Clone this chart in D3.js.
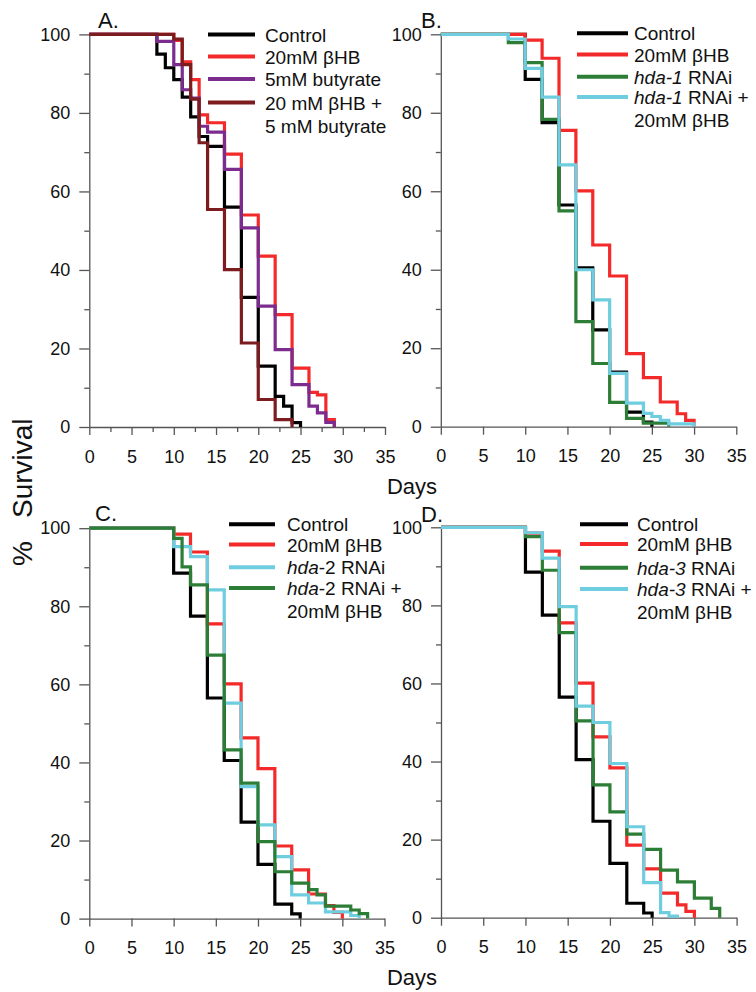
<!DOCTYPE html>
<html>
<head>
<meta charset="utf-8">
<script src="https://cdn.jsdelivr.net/npm/d3@7"></script>
<style>
  html, body { margin: 0; padding: 0; background: #fff; }
  svg { display: block; font-family: "Liberation Sans", Arial, sans-serif; }
</style>
</head>
<body>
<svg id="chart" width="756" height="992"></svg>
<script>
// ---- Axis ticks ----
const dayTicks = [0, 5, 10, 15, 20, 25, 30, 35];
const dayMinorTicks = [2.5, 7.5, 12.5, 17.5, 22.5, 27.5, 32.5];
const survTicks = [0, 20, 40, 60, 80, 100];
const survMinorTicks = [10, 30, 50, 70, 90];

// ---- Panel A: butyrate and βHB ----
const aControlDays = [0, 8, 9, 10, 11, 12, 13, 14, 16, 18, 20, 22, 23, 24, 25];
const aControlSurv = [100, 95, 91.5, 88.5, 84, 79, 74, 71.5, 56, 33, 15.5, 7.8, 5.3, 1.1, 0];
const aBhbDays = [0, 10, 11, 12, 13, 14, 16, 18, 20, 22, 24, 26, 27, 28, 29];
const aBhbSurv = [100, 98.5, 93, 88.5, 79.5, 77.5, 69.5, 54, 43.5, 28.6, 15, 8.8, 8.2, 1.9, 0];
const aButyrateDays = [0, 8, 10, 11, 12, 13, 14, 16, 18, 20, 22, 24, 26, 27, 28, 29];
const aButyrateSurv = [100, 98.2, 92.3, 85.9, 83.8, 76.6, 75.1, 65.6, 50.7, 30.8, 19.7, 10.8, 5.3, 3.6, 1.2, 0];
const aComboDays = [0, 10, 11, 12, 13, 14, 16, 18, 20, 22, 24];
const aComboSurv = [100, 98.8, 92.3, 83.5, 72.4, 55.4, 40.1, 21.4, 7, 1.9, 0];

// ---- Shared control and βHB for panels B–D ----
const controlDays = [0, 10, 12, 14, 16, 18, 20, 22, 24, 25];
const controlSurv = [100, 88.5, 77.5, 56.5, 40.5, 24.7, 13.9, 3.7, 1.2, 0];
const bhbDays = [0, 10, 12, 14, 16, 18, 20, 22, 24, 26, 28, 29, 30];
const bhbSurv = [100, 98.5, 93.9, 75.5, 60.1, 46.3, 38.4, 18.6, 12.5, 6.3, 3.3, 1.6, 0];

// ---- Panel B: hda-1 ----
const hda1Days = [0, 8, 10, 12, 14, 16, 18, 20, 22, 24, 27];
const hda1Surv = [100, 97.9, 92.8, 78.3, 55, 26.8, 16.1, 6.2, 2.1, 0.9, 0];
const hda1BhbDays = [0, 8, 10, 12, 14, 16, 18, 20, 22, 24, 25, 26, 27, 30];
const hda1BhbSurv = [100, 98.8, 91.3, 84, 66.7, 40, 32.3, 13.6, 6, 3.4, 2.6, 1.6, 0.7, 0];

// ---- Panel C: hda-2 ----
const hda2Days = [0, 10, 12, 14, 16, 18, 20, 22, 24, 26, 28, 31, 32];
const hda2Surv = [100, 95.3, 92.7, 84.2, 55.2, 33.8, 24, 15.9, 6.1, 4, 1.7, 0.8, 0];
const hda2BhbDays = [0, 10, 11, 12, 14, 16, 18, 20, 22, 24, 26, 27, 28, 31, 32, 33];
const hda2BhbSurv = [100, 97.4, 90.1, 85.5, 67.5, 43.2, 34.7, 19.7, 12, 9.1, 7.4, 6.1, 3.2, 2.2, 1.3, 0];

// ---- Panel D: hda-3 ----
const hda3Days = [0, 10, 12, 14, 16, 18, 20, 22, 24, 26, 28, 30, 32, 33];
const hda3Surv = [100, 97.6, 89, 73, 50.4, 34, 27.1, 21.4, 17.5, 12.2, 9.2, 5, 2.4, 0];
const hda3BhbDays = [0, 10, 12, 14, 16, 18, 20, 22, 24, 26, 27, 28];
const hda3BhbSurv = [100, 98.6, 92.1, 79.7, 54.2, 50, 39.5, 23.3, 9, 1.3, 0.4, 0];

// ---- Colours ----
const colControl = "#000000";
const colBhb = "#f42a2a";
const colButyrate = "#7b2c8e";
const colCombo = "#7d1c1f";
const colGreen = "#2c7d36";
const colCyan = "#6fcde0";

// Legend label parts: [text, italic]
const it = (t) => [t, true];
const rm = (t) => [t, false];

const panels = [
  {
    tag: "A.", tagX: 98, tagY: 28,
    x: [89.3, 385], y: [427, 34.4], minorX: true,
    series: [
      { days: aControlDays, surv: aControlSurv, color: colControl, label: [[rm("Control")]] },
      { days: aBhbDays, surv: aBhbSurv, color: colBhb, label: [[rm("20mM βHB")]] },
      { days: aButyrateDays, surv: aButyrateSurv, color: colButyrate, label: [[rm("5mM butyrate")]] },
      { days: aComboDays, surv: aComboSurv, color: colCombo, label: [[rm("20 mM βHB +")], [rm("5 mM butyrate")]] }
    ],
    legend: { lx0: 208, lx1: 255, tx: 265, ys: [34.5, 56.5, 79, 102.5] }
  },
  {
    tag: "B.", tagX: 421, tagY: 28,
    x: [440.8, 736.3], y: [426.7, 34.3], minorX: false,
    series: [
      { days: controlDays, surv: controlSurv, color: colControl, label: [[rm("Control")]] },
      { days: bhbDays, surv: bhbSurv, color: colBhb, label: [[rm("20mM βHB")]] },
      { days: hda1Days, surv: hda1Surv, color: colGreen, label: [[it("hda-1"), rm(" RNAi")]] },
      { days: hda1BhbDays, surv: hda1BhbSurv, color: colCyan, label: [[it("hda-1"), rm(" RNAi +")], [rm("20mM βHB")]] }
    ],
    legend: { lx0: 577, lx1: 628, tx: 634, ys: [33.3, 54.5, 76.7, 97] }
  },
  {
    tag: "C.", tagX: 95, tagY: 521,
    x: [89.3, 384.5], y: [918.6, 528.2], minorX: false,
    series: [
      { days: controlDays, surv: controlSurv, color: colControl, label: [[rm("Control")]] },
      { days: bhbDays, surv: bhbSurv, color: colBhb, label: [[rm("20mM βHB")]] },
      { days: hda2Days, surv: hda2Surv, color: colCyan, label: [[it("hda"), rm("-2 RNAi")]] },
      { days: hda2BhbDays, surv: hda2BhbSurv, color: colGreen, label: [[it("hda"), rm("-2 RNAi +")], [rm("20mM βHB")]] }
    ],
    legend: { lx0: 229, lx1: 275, tx: 287, ys: [524.3, 544.5, 567.3, 588] }
  },
  {
    tag: "D.", tagX: 421, tagY: 522,
    x: [441, 736.6], y: [917.7, 527.3], minorX: false,
    series: [
      { days: controlDays, surv: controlSurv, color: colControl, label: [[rm("Control")]] },
      { days: bhbDays, surv: bhbSurv, color: colBhb, label: [[rm("20mM βHB")]] },
      { days: hda3Days, surv: hda3Surv, color: colGreen, label: [[it("hda-3"), rm(" RNAi")]] },
      { days: hda3BhbDays, surv: hda3BhbSurv, color: colCyan, label: [[it("hda-3"), rm(" RNAi +")], [rm("20mM βHB")]] }
    ],
    legend: { lx0: 580, lx1: 628, tx: 637, ys: [524.3, 544, 567.7, 589] }
  }
];

const svg = d3.select("#chart");
const axisColor = "#555";

panels.forEach(p => {
  const x = d3.scaleLinear().domain([0, 35]).range(p.x);
  const y = d3.scaleLinear().domain([0, 100]).range(p.y);
  const g = svg.append("g");

  // minor ticks first
  if (p.minorX) {
    g.append("g").attr("transform", `translate(0,${p.y[0]})`)
      .call(d3.axisBottom(x).tickValues(dayMinorTicks).tickSize(5).tickSizeOuter(0).tickFormat(""))
      .call(s => s.select(".domain").remove());
  }
  g.append("g").attr("transform", `translate(${p.x[0]},0)`)
    .call(d3.axisLeft(y).tickValues(survMinorTicks).tickSize(5).tickSizeOuter(0).tickFormat(""))
    .call(s => s.select(".domain").remove());

  // major axes
  g.append("g").attr("class", "xaxis").attr("transform", `translate(0,${p.y[0]})`)
    .call(d3.axisBottom(x).tickValues(dayTicks).tickSize(8).tickSizeOuter(0).tickPadding(15));
  g.append("g").attr("class", "yaxis").attr("transform", `translate(${p.x[0]},0)`)
    .call(d3.axisLeft(y).tickValues(survTicks).tickSize(10).tickSizeOuter(0).tickPadding(9));

  g.selectAll(".domain, .tick line").attr("stroke", axisColor).attr("stroke-width", 1.3);
  g.selectAll(".tick text").attr("fill", "#111").attr("font-size", 18)
    .attr("font-family", "'Liberation Sans', Arial, sans-serif");

  // survival curves
  const line = d3.line()
    .x(d => x(d[0]))
    .y(d => y(d[1]))
    .curve(d3.curveStepAfter);

  p.series.forEach(s => {
    const pts = s.days.map((d, i) => [d, s.surv[i]]);
    g.append("path")
      .attr("d", line(pts))
      .attr("fill", "none")
      .attr("stroke", s.color)
      .attr("stroke-width", 3.2)
      .attr("stroke-linejoin", "miter");
  });

  // panel tag
  g.append("text").attr("x", p.tagX).attr("y", p.tagY)
    .attr("font-size", 22).attr("fill", "#111").text(p.tag);

  // legend
  p.series.forEach((s, i) => {
    const ly = p.legend.ys[i];
    g.append("line")
      .attr("x1", p.legend.lx0).attr("x2", p.legend.lx1)
      .attr("y1", ly).attr("y2", ly)
      .attr("stroke", s.color).attr("stroke-width", 4);
    s.label.forEach((lineParts, li) => {
      const t = g.append("text")
        .attr("x", p.legend.tx).attr("y", ly + 7 + li * 23)
        .attr("font-size", 19).attr("fill", "#111");
      lineParts.forEach(([txt, ital]) => {
        t.append("tspan").attr("font-style", ital ? "italic" : "normal").text(txt);
      });
    });
  });
});

// shared axis titles
svg.append("text").attr("x", 412).attr("y", 494).attr("text-anchor", "middle")
  .attr("font-size", 22).attr("fill", "#111").text("Days");
svg.append("text").attr("x", 412).attr("y", 985).attr("text-anchor", "middle")
  .attr("font-size", 22).attr("fill", "#111").text("Days");

const yTitle = svg.append("g").attr("transform", "translate(32,0) rotate(-90)");
yTitle.append("text").attr("x", -518).attr("y", 0)
  .attr("font-size", 28).attr("fill", "#111").text("Survival");
yTitle.append("text").attr("x", -566).attr("y", 0)
  .attr("font-size", 28).attr("fill", "#111").text("%");
</script>
</body>
</html>
